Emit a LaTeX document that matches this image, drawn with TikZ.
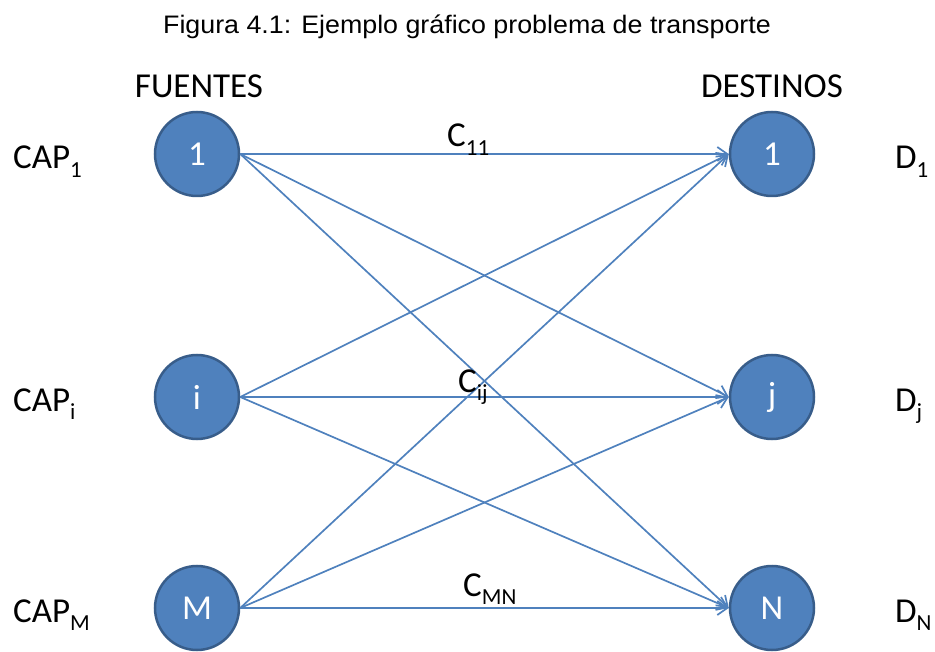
\documentclass[tikz,border=0pt]{standalone}
\usepackage{fontspec}
\setmainfont{Carlito}
\newfontfamily\arialf{Liberation Sans}
\usetikzlibrary{arrows.meta}
\definecolor{nodefill}{RGB}{79,129,189}
\definecolor{nodeedge}{RGB}{56,93,138}
\definecolor{edgecol}{RGB}{79,129,189}
\newcommand\sbs[1]{\raisebox{-0.23em}{\fontsize{23}{23}\selectfont #1}}
\tikzset{
  vert/.style={circle, minimum size=84pt, inner sep=0pt, fill=nodefill, draw=nodeedge, line width=2.5pt, text=white, font=\fontsize{35}{35}\selectfont},
  lbl/.style={inner sep=0pt, font=\fontsize{35}{35}\selectfont},
  conn/.style={draw=edgecol, line width=1.7pt, -{Straight Barb[length=10pt,width=14pt,line width=1.7pt]}},
}
\begin{document}
\begin{tikzpicture}[x=1pt,y=-1pt]
\useasboundingbox (0,0) rectangle (935,652);
\node[inner sep=0pt, anchor=base, xscale=1.06, font=\arialf\fontsize{25.3}{25.3}\selectfont] (title) at (467,34) {Figura 4.1: Ejemplo gráfico problema de transporte};
\node[lbl, anchor=base] (fuentes) at (199,98) {FUENTES};
\node[lbl, anchor=base] (destinos) at (772,98) {DESTINOS};

\node[vert] (s1) at (197,154) {1};
\node[vert] (si) at (197,397) {i};
\node[vert] (sm) at (197,608) {M};
\node[vert] (d1) at (772,154) {1};
\node[vert] (dj) at (772,397) {j};
\node[vert] (dn) at (772,608) {N};

\node[lbl, anchor=base west] (cap1) at (13,169) {CAP\sbs{1}};
\node[lbl, anchor=base west] (capi) at (13,411) {CAP\sbs{i}};
\node[lbl, anchor=base west] (capm) at (13,622) {CAP\sbs{M}};
\node[lbl, anchor=base west] (dd1) at (895,169) {D\sbs{1}};
\node[lbl, anchor=base west] (ddj) at (895,411) {D\sbs{j}};
\node[lbl, anchor=base west] (ddn) at (895,622) {D\sbs{N}};

\foreach \s in {s1,si,sm}{
  \foreach \d in {d1,dj,dn}{
    \draw[conn] (\s.east) -- (\d.west);
  }
}

\node[lbl, anchor=base west] (c11) at (447,147) {C\sbs{11}};
\node[lbl, anchor=base west] (cij) at (458,392) {C\sbs{ij}};
\node[lbl, anchor=base west] (cmn) at (463,596) {C\sbs{MN}};
\end{tikzpicture}
\end{document}
